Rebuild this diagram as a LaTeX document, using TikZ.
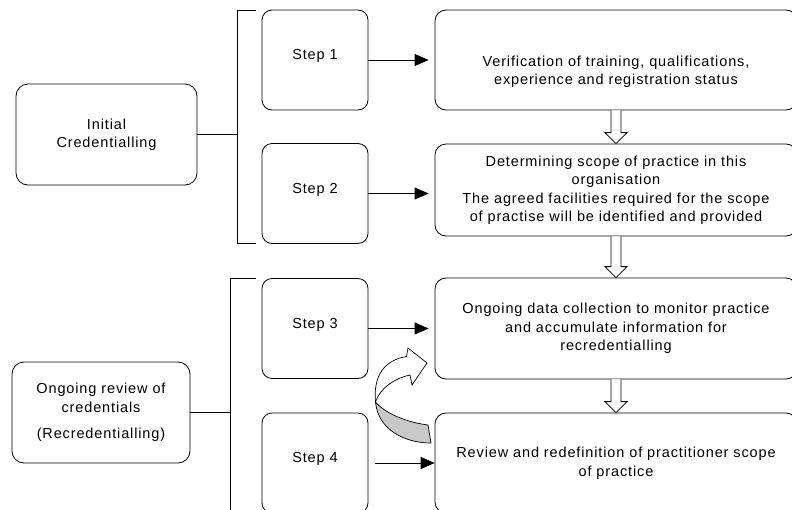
\documentclass[tikz,border=0pt]{standalone}
\usepackage{fontspec}
\setmainfont{Liberation Sans}[LetterSpace=6]
\usetikzlibrary{arrows.meta,calc}
\definecolor{crGrey}{HTML}{C8C8C8}

\begin{document}
\begin{tikzpicture}[x=1pt, y=-1pt, font=\fontsize{14.5}{18.5}\selectfont, line width=0.8pt,
  cbox/.style={draw,rounded corners=12pt,align=center,minimum height=101pt},
  sbox/.style={draw,rounded corners=10pt,minimum width=106pt,minimum height=100pt},
  rbox/.style={draw,rounded corners=11pt,align=center,minimum width=362pt},
  arr/.style={-{Triangle[length=14pt,width=12pt]}}]
\path[use as bounding box] (0,0) rectangle (792,509);
\fill[white] (0,0) rectangle (792,509);
\clip (0,0) rectangle (792,509);
% left column
\node[cbox,minimum width=181pt] (init) at (106.5,134.5) {Initial\\Credentialling};
\node[cbox,minimum width=178pt] (ongo) at (101,412.5) {Ongoing review of\\credentials\\[8pt](Recredentialling)};
% steps
\foreach \i/\y in {1/60,2/193.5,3/328.5,4/463}
  \node[sbox] (s\i) at (315,\y) {\raisebox{4pt}[\height][\depth]{Step \i}};
% right column
\node[rbox,minimum height=100pt,
  label={[align=center,yshift=-11.5pt]center:{Verification of training, qualifications,\\experience and registration status}}] (r1) at (616,60) {};
\node[rbox,minimum height=92pt] (r2) at (616,190) {Determining scope of practice in this\\organisation\\The agreed facilities required for the scope\\of practise will be identified and provided};
\node[rbox,minimum height=101pt] (r3) at (616,328.5) {Ongoing data collection to monitor practice\\and accumulate information for\\recredentialling};
\node[rbox,minimum height=100pt] (r4) at (616,463) {Review and redefinition of practitioner scope\\of practice};
% brackets
\coordinate (b1) at (237,10);
\coordinate (b1t) at (256,10);
\coordinate (b1b) at (256,243);
\draw (b1t) -- (b1) |- (b1b);
\draw (init.east) -- (init.east -| b1);
\coordinate (b2) at (230,278);
\coordinate (b2t) at (256,278);
\coordinate (b2b) at (230,520);
\draw (b2t) -- (b2) -- (b2b);
\draw (ongo.east) -- (ongo.east -| b2);
% step arrows
\foreach \i in {1,2,3} \draw[arr,shorten >=6pt] (s\i.east) -- (s\i.east -| r\i.west);
\draw[arr,shorten <=7pt] (s4.east) -- (r4.west);
% hollow arrows
\foreach \a/\b in {r1/r2,r2/r3,r3/r4}
  \draw[fill=white] ($(\a.south)+(-5,0)$) -- ($(\b.north)+(-5,-11)$) -- ($(\b.north)+(-11,-11)$)
    -- (\b.north) -- ($(\b.north)+(11,-11)$) -- ($(\b.north)+(5,-11)$) -- ($(\a.south)+(5,0)$);
% curved arrow back to step 3
\draw[fill=crGrey,line width=0.7pt] (375.5,402) .. controls (385,413) and (405,422) .. (428,425)
  -- (431,443) .. controls (405,443) and (378,430) .. (375.5,402) -- cycle;
\draw[fill=white,line width=0.7pt] (375.5,402) .. controls (373,375) and (385,360) .. (406.5,356.5)
  -- (408,348) -- (427,363) -- (412,385) -- (410,375) .. controls (395,378) and (380,388) .. (375.5,402) -- cycle;
\end{tikzpicture}
\end{document}
